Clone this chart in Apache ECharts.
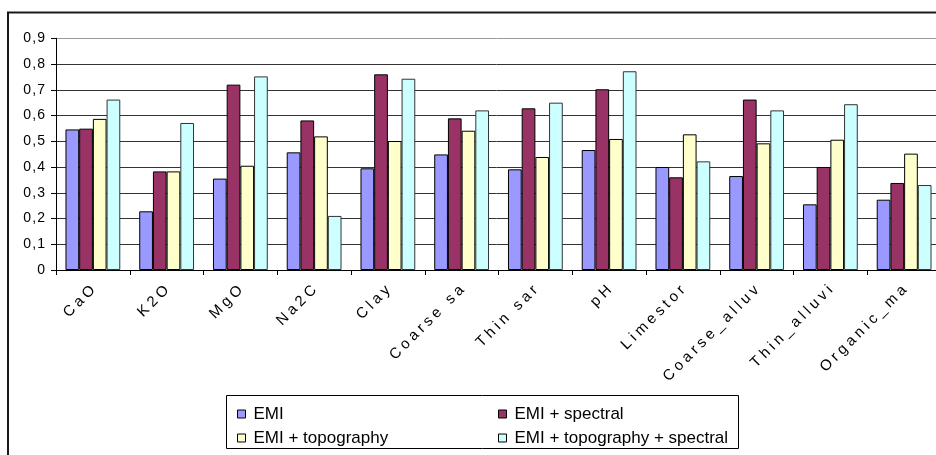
<!DOCTYPE html>
<html>
<head>
<meta charset="utf-8">
<script src="https://cdn.jsdelivr.net/npm/echarts@6/dist/echarts.min.js"></script>
<style>
  html, body { margin: 0; padding: 0; background: #fff; }
  #chart { width: 936px; height: 455px; }
</style>
</head>
<body>
<div id="chart"></div>
<script>
// Soil properties (category labels as printed on the axis)
const categories = ['CaO', 'K2O', 'MgO', 'Na2C', 'Clay', 'Coarse sa', 'Thin sar', 'pH',
  'Limestor', 'Coarse_alluv', 'Thin_alluvi', 'Organic_ma'];

const seriesNames = ['EMI', 'EMI + spectral', 'EMI + topography', 'EMI + topography + spectral'];

const emi          = [0.546, 0.228, 0.355, 0.457, 0.395, 0.449, 0.391, 0.466, 0.400, 0.365, 0.255, 0.273];
const emiSpectral  = [0.549, 0.383, 0.720, 0.581, 0.760, 0.589, 0.628, 0.702, 0.360, 0.662, 0.400, 0.338];
const emiTopo      = [0.587, 0.383, 0.405, 0.519, 0.501, 0.541, 0.439, 0.509, 0.527, 0.492, 0.506, 0.452];
const emiTopoSpec  = [0.662, 0.571, 0.752, 0.210, 0.743, 0.620, 0.650, 0.772, 0.422, 0.620, 0.644, 0.330];

const yTicks = [0, 0.1, 0.2, 0.3, 0.4, 0.5, 0.6, 0.7, 0.8, 0.9];

const colors = ['#9999FF', '#993366', '#FFFFCC', '#CCFFFF'];
const FONT = '"Liberation Sans", Arial, sans-serif';

// widen glyph spacing the way the axis text is set
function spaced(s, sep) { return s.split('').join(sep); }

function barSeries(name, data, color, border) {
  return {
    name: name,
    type: 'bar',
    data: data,
    barWidth: 13.7,
    barGap: '0%',
    itemStyle: { color: color, borderColor: border, borderWidth: 1 },
    emphasis: { disabled: true },
    animation: false
  };
}

const chart = echarts.init(document.getElementById('chart'), null, { renderer: 'canvas' });

const gridColors = yTicks.map((v, i) => i === yTicks.length - 1 ? '#9a9a9a' : '#333');

const legendBase = {
  orient: 'vertical',
  icon: 'rect',
  itemWidth: 8,
  itemHeight: 8,
  itemGap: 5,
  selectedMode: false,
  itemStyle: { borderColor: '#000', borderWidth: 1 },
  textStyle: { fontFamily: FONT, fontSize: 17, color: '#000', lineHeight: 19, padding: [0, 0, 0, 3] }
};

chart.setOption({
  backgroundColor: '#fff',
  animation: false,
  textStyle: { fontFamily: FONT },
  grid: {
    left: 56, top: 38.3, width: 885, height: 231.7,
    containLabel: false, outerBoundsMode: 'none'
  },
  legend: [
    Object.assign({}, legendBase, { left: 232, top: 399.5, data: [seriesNames[0], seriesNames[2]] }),
    Object.assign({}, legendBase, { left: 493, top: 399.5, data: [seriesNames[1], seriesNames[3]] })
  ],
  xAxis: {
    type: 'category',
    data: categories,
    boundaryGap: true,
    axisLine: { lineStyle: { color: '#000', width: 1 } },
    axisTick: { show: true, length: 5, lineStyle: { color: '#000' } },
    axisLabel: {
      interval: 0,
      rotate: 45,
      margin: 18,
      fontSize: 15,
      fontFamily: FONT,
      color: '#000',
      formatter: v => spaced(v, '\u2005')
    },
    splitLine: { show: false }
  },
  yAxis: {
    type: 'value',
    min: 0,
    max: 0.9,
    interval: 0.1,
    axisLine: { show: true, lineStyle: { color: '#000', width: 1 } },
    axisTick: { show: true, length: 5, lineStyle: { color: '#000' } },
    axisLabel: {
      margin: 11,
      fontSize: 14,
      fontFamily: FONT,
      color: '#000',
      formatter: v => spaced(v === 0 ? '0' : v.toFixed(1).replace('.', ','), '\u200A')
    },
    splitLine: { show: true, lineStyle: { color: gridColors, width: 1 } }
  },
  graphic: [
    {
      type: 'rect',
      shape: { x: 8, y: 12.5, width: 1000, height: 1000 },
      style: { fill: 'none', stroke: '#1a1a1a', lineWidth: 2 },
      z: 100, silent: true
    },
    {
      type: 'rect',
      shape: { x: 226.5, y: 395.5, width: 512, height: 53 },
      style: { fill: '#fff', stroke: '#000', lineWidth: 1 },
      z: -1, silent: true
    }
  ],
  series: [
    barSeries(seriesNames[0], emi, colors[0], '#000'),
    barSeries(seriesNames[1], emiSpectral, colors[1], '#000'),
    barSeries(seriesNames[2], emiTopo, colors[2], '#000'),
    barSeries(seriesNames[3], emiTopoSpec, colors[3], '#333')
  ]
});
</script>
</body>
</html>
